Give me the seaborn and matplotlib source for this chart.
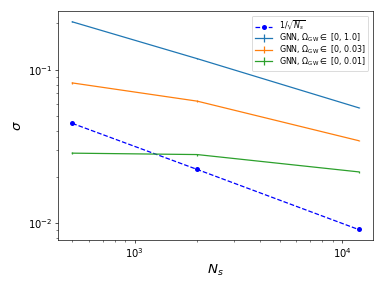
import numpy as np
import pandas as pd
import matplotlib
matplotlib.use("Agg")
import matplotlib.pyplot as plt
import seaborn as sns

# values
n_samples = [500, 2000, 12000]
inv_sqrt = [0.0447, 0.0224, 0.0091]
sigma_full = [0.205, 0.118, 0.0565]
sigma_003 = [0.082, 0.0624, 0.0345]
sigma_001 = [0.0286, 0.028, 0.0216]
err_full = [0.0015, 0.001, 0.0006]
err_003 = [0.0008, 0.0006, 0.0004]
err_001 = [0.0004, 0.0004, 0.0003]

# keep plain matplotlib look (black spines, no grid)
plt.rcParams["font.family"] = ["DejaVu Sans"]

fig, ax = plt.subplots(figsize=(6.4, 4.8), dpi=60)

df = pd.DataFrame({"Ns": n_samples, "sigma": inv_sqrt})
sns.lineplot(data=df, x="Ns", y="sigma", ax=ax, color="blue", linestyle="--",
             marker="o", markersize=6, markeredgewidth=0, linewidth=1.5,
             label=r"$1/\sqrt{N_s}$")

for vals, errs, col, lab in [
    (sigma_full, err_full, "C0", r"GNN, $\Omega_{\rm GW} \in$ [0, 1.0]"),
    (sigma_003, err_003, "C1", r"GNN, $\Omega_{\rm GW} \in$ [0, 0.03]"),
    (sigma_001, err_001, "C2", r"GNN, $\Omega_{\rm GW} \in$ [0, 0.01]"),
]:
    ax.errorbar(n_samples, vals, yerr=errs, color=col, linewidth=1.5, label=lab)

ax.set_xscale("log")
ax.set_yscale("log")
ax.set_xlabel(r"$N_s$", fontsize=16)
ax.set_ylabel(r"$\sigma$", fontsize=16)
ax.tick_params(labelsize=12)
ax.legend(fontsize=9.5, loc="upper right", labelspacing=-0.1,
          handlelength=2.2, borderaxespad=0.6)

fig.subplots_adjust(left=0.151, right=0.971, top=0.962, bottom=0.167)
plt.savefig("out.png", dpi=60)
